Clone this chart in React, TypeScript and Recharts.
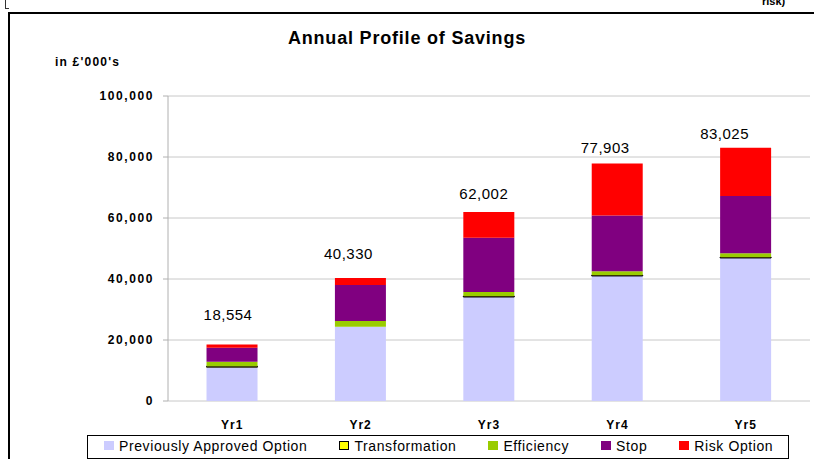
import { BarChart, Bar, XAxis, YAxis, CartesianGrid, Legend, LabelList } from 'recharts';

const years = ['Yr1', 'Yr2', 'Yr3', 'Yr4', 'Yr5'];
const approved = [11100, 24350, 34100, 41000, 46900];
const transformation = [300, 0, 300, 300, 300];
const efficiency = [1450, 1870, 1300, 1250, 1250];
const stop = [4600, 11800, 17800, 18300, 18750];
const riskOption = [1104, 2310, 8502, 17053, 15825];
const totals = [18554, 40330, 62002, 77903, 83025];
const yTicks = [0, 20000, 40000, 60000, 80000, 100000];
const edgeTicks = [0, 1, 2, 3, 4, 5];

const rows = years.map((year, i) => ({
  year,
  approved: approved[i],
  transformation: transformation[i],
  efficiency: efficiency[i],
  stop: stop[i],
  risk: riskOption[i],
  total: totals[i],
}));

const series = [
  { key: 'approved', name: 'Previously Approved Option', fill: '#ccccff' },
  { key: 'transformation', name: 'Transformation', fill: '#ffff00', stroke: '#000' },
  { key: 'efficiency', name: 'Efficiency', fill: '#99cc00' },
  { key: 'stop', name: 'Stop', fill: '#800080' },
  { key: 'risk', name: 'Risk Option', fill: '#ff0000' },
];

const FONT = '"Liberation Sans", Arial, sans-serif';
const AXIS = '#b0b0b0';
const GRID = '#c8c8c8';

// the totals in the original were dragged by hand, so each one sits a bit differently
const labelNudge = [
  [-4, 24],
  [-12, 19],
  [-5, 13],
  [-12, 10],
  [-21, 9],
];

function TotalLabel(props: any) {
  const { x, y, width, value } = props;
  const i = totals.indexOf(Number(value));
  const [dx, lift] = labelNudge[i] || [0, 10];
  return (
    <text
      x={Number(x) + Number(width) / 2 + dx}
      y={Number(y) - lift}
      textAnchor="middle"
      fontFamily={FONT}
      fontSize={15}
      letterSpacing={0.5}
      fill="#000"
    >
      {Number(value).toLocaleString('en-US')}
    </text>
  );
}

function YearTick(props: any) {
  const { x, y, payload } = props;
  return (
    <text
      x={x}
      y={y + 26}
      textAnchor="middle"
      fontFamily={FONT}
      fontSize={12}
      fontWeight={700}
      letterSpacing={1}
      fill="#000"
    >
      {payload.value}
    </text>
  );
}

function LegendBox() {
  return (
    <div
      style={{
        boxSizing: 'border-box',
        width: '100%',
        height: '100%',
        border: '1px solid #000',
        display: 'flex',
        alignItems: 'center',
        paddingLeft: 16,
        paddingBottom: 3,
        fontFamily: FONT,
        fontSize: 14,
        letterSpacing: 0.6,
        color: '#000',
        whiteSpace: 'nowrap',
      }}
    >
      {series.map((s) => (
        <span key={s.key} style={{ display: 'inline-flex', alignItems: 'center', marginRight: 32 }}>
          <span
            style={{
              boxSizing: 'border-box',
              display: 'inline-block',
              width: 10,
              height: 9,
              background: s.fill,
              border: s.stroke ? '1px solid #000' : 'none',
              marginRight: 5,
            }}
          />
          {s.name}
        </span>
      ))}
    </div>
  );
}

export default function App() {
  return (
    <div
      style={{
        position: 'absolute',
        left: 0,
        top: 0,
        width: 814,
        height: 459,
        overflow: 'hidden',
        background: '#fff',
        fontFamily: FONT,
      }}
    >
      <div style={{ position: 'absolute', left: 5, top: 0, width: 3, height: 8, borderLeft: '1px solid #333', borderBottom: '1px solid #333' }} />
      <div style={{ position: 'absolute', left: 762, top: -4, fontSize: 11, fontWeight: 700, lineHeight: '11px' }}>risk)</div>
      <div style={{ position: 'absolute', left: 8, top: 12, width: 1000, height: 1000, borderLeft: '2px solid #000', borderTop: '2px solid #000' }} />
      <div
        style={{
          position: 'absolute',
          left: 0,
          top: 29,
          width: 814,
          textAlign: 'center',
          fontSize: 18,
          lineHeight: '18px',
          fontWeight: 700,
          letterSpacing: 0.8,
        }}
      >
        Annual Profile of Savings
      </div>
      <div style={{ position: 'absolute', left: 55, top: 56, fontSize: 12, lineHeight: '12px', fontWeight: 700, letterSpacing: 1.2 }}>
        in £'000's
      </div>
      <div style={{ position: 'absolute', left: 0, top: 0 }}>
        <BarChart
          width={814}
          height={459}
          data={rows}
          margin={{ top: 96, right: 4, bottom: 28, left: 0 }}
          barCategoryGap="30%"
        >
          <CartesianGrid vertical={false} stroke={GRID} />
          <YAxis
            domain={[0, 100000]}
            ticks={yTicks}
            interval={0}
            width={168}
            tickSize={5}
            tickMargin={9}
            axisLine={{ stroke: AXIS }}
            tickLine={{ stroke: AXIS }}
            tick={{ fill: '#000', fontSize: 12, fontWeight: 700, letterSpacing: 1.6, fontFamily: FONT }}
            tickFormatter={(v: number) => v.toLocaleString('en-US')}
          />
          <YAxis yAxisId="frame" orientation="right" width={0} domain={[0, 1]} tick={false} tickLine={false} axisLine={{ stroke: GRID }} />
          <XAxis
            xAxisId="edges"
            type="number"
            domain={[0, 5]}
            ticks={edgeTicks}
            interval={0}
            allowDataOverflow
            height={0}
            tickSize={5}
            axisLine={{ stroke: AXIS }}
            tickLine={{ stroke: AXIS }}
            tick={false}
          />
          <XAxis dataKey="year" height={30} axisLine={false} tickLine={false} tickSize={0} tick={<YearTick />} />
          <Legend
            layout="horizontal"
            verticalAlign="middle"
            content={<LegendBox />}
            wrapperStyle={{ left: 87, top: 435, bottom: 'auto', right: 'auto', width: 702, height: 24 }}
          />
          {series.map((s) => (
            <Bar
              key={s.key}
              dataKey={s.key}
              name={s.name}
              stackId="a"
              fill={s.fill}
              stroke={s.stroke}
              strokeWidth={s.stroke ? 1 : 0}
              isAnimationActive={false}
            >
              {s.key === 'risk' ? <LabelList dataKey="total" content={<TotalLabel />} /> : null}
            </Bar>
          ))}
        </BarChart>
      </div>
    </div>
  );
}
